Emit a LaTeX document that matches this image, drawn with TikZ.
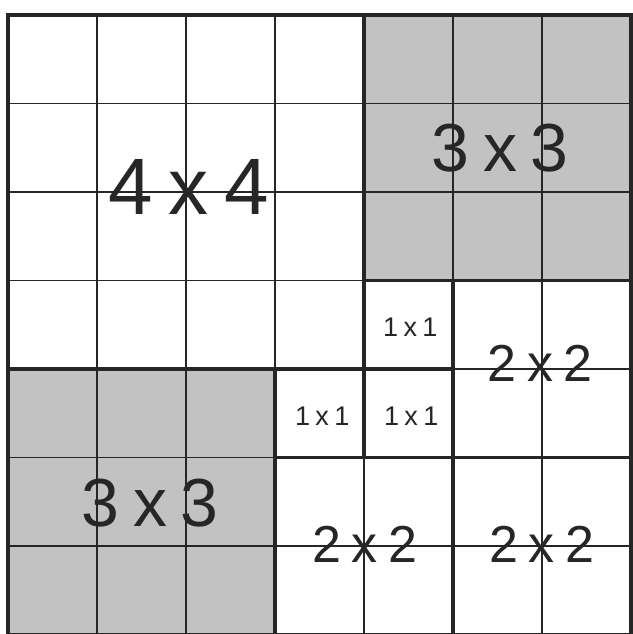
\documentclass[tikz,border=0pt]{standalone}
\usepackage{fontspec}
\setmainfont{Liberation Sans}
\definecolor{shade}{gray}{0.76}
\definecolor{ink}{gray}{0.15}
\newcommand{\gapx}{\hspace{0.2em}}
\begin{document}
\begin{tikzpicture}[x=89pt, y=-88.5pt,
  thinline/.style={line width=1.1pt, draw=ink},
  thickline/.style={line width=3.2pt, draw=ink, line join=miter},
  shaded/.style={fill=shade},
  lbl/.style={inner sep=0pt, text=ink, font=\fontsize{#1}{#1}\selectfont}]
\useasboundingbox (-8pt,15pt) rectangle (624pt,-619pt);
\fill[white] (-8pt,15pt) rectangle (624pt,-619pt);
% shaded blocks
\fill[shaded] (4,0) rectangle (7,3);
\fill[shaded] (0,4) rectangle (3,7);
% thin grid
\foreach \i in {1,...,6} {
  \draw[thinline] (\i,0) -- (\i,7);
  \draw[thinline] (0,\i) -- (7,\i);
}
% blocks
\draw[thickline] (0,0) rectangle (4,4);
\draw[thickline] (4,0) rectangle (7,3);
\draw[thickline] (4,3) rectangle (5,4);
\draw[thickline] (5,3) rectangle (7,5);
\draw[thickline] (0,4) rectangle (3,7);
\draw[thickline] (3,4) rectangle (4,5);
\draw[thickline] (4,4) rectangle (5,5);
\draw[thickline] (3,5) rectangle (5,7);
\draw[thickline] (5,5) rectangle (7,7);
% labels
\node[lbl=80] (t44) at (2.03,1.94) {4\gapx x\gapx 4};
\node[lbl=68] (t33a) at (5.53,1.50) {3\gapx x\gapx 3};
\node[lbl=68] (t33b) at (1.60,5.51) {3\gapx x\gapx 3};
\node[lbl=52] (t22a) at (5.98,3.94) {2\gapx x\gapx 2};
\node[lbl=52] (t22b) at (4.01,5.98) {2\gapx x\gapx 2};
\node[lbl=52] (t22c) at (6.00,5.98) {2\gapx x\gapx 2};
\node[lbl=27] (t11a) at (4.52,3.53) {1\gapx x\gapx 1};
\node[lbl=27] (t11b) at (3.53,4.53) {1\gapx x\gapx 1};
\node[lbl=27] (t11c) at (4.53,4.53) {1\gapx x\gapx 1};
\end{tikzpicture}
\end{document}
